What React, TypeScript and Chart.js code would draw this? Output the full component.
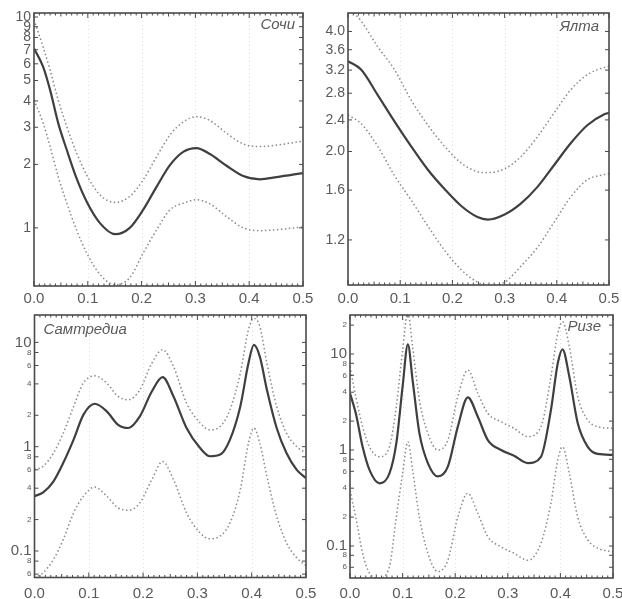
import React, { useEffect, useRef } from "react";
import { Chart, registerables } from "chart.js";

Chart.register(...registerables);

// ---------- data ----------
const xTickValues = [0, 0.1, 0.2, 0.3, 0.4, 0.5];

// Сочи
const sochiX = [0, 0.017, 0.03, 0.045, 0.061, 0.079, 0.098, 0.123, 0.151, 0.178, 0.203, 0.228, 0.253, 0.278, 0.302, 0.327, 0.358, 0.389, 0.42, 0.451, 0.5];
const sochiMid = [7.1, 5.8, 4.5, 3.14, 2.34, 1.72, 1.33, 1.05, 0.933, 1.0, 1.22, 1.57, 1.99, 2.3, 2.39, 2.24, 1.97, 1.76, 1.7, 1.74, 1.82];
const sochiUp = [9.7, 7.2, 5.6, 4.04, 3.02, 2.27, 1.78, 1.43, 1.32, 1.41, 1.69, 2.18, 2.76, 3.19, 3.37, 3.23, 2.81, 2.5, 2.43, 2.47, 2.58];
const sochiLow = [4.04, 3.14, 2.43, 1.75, 1.31, 0.98, 0.76, 0.6, 0.537, 0.58, 0.76, 0.98, 1.22, 1.31, 1.36, 1.3, 1.13, 1.0, 0.97, 0.98, 1.01];
const sochiTicks = [1, 2, 3, 4, 5, 6, 7, 8, 9, 10];

// Ялта
const yaltaX = [0, 0.025, 0.057, 0.089, 0.121, 0.153, 0.185, 0.217, 0.248, 0.268, 0.3, 0.331, 0.363, 0.395, 0.427, 0.459, 0.491, 0.5];
const yaltaMid = [3.37, 3.21, 2.77, 2.38, 2.06, 1.8, 1.61, 1.46, 1.37, 1.35, 1.39, 1.48, 1.63, 1.85, 2.1, 2.33, 2.48, 2.5];
const yaltaUp = [4.6, 4.25, 3.66, 3.21, 2.69, 2.33, 2.06, 1.87, 1.78, 1.77, 1.81, 1.94, 2.18, 2.5, 2.86, 3.12, 3.25, 3.27];
const yaltaLow = [2.47, 2.35, 2.06, 1.74, 1.51, 1.3, 1.13, 1.01, 0.94, 0.92, 0.94, 1.03, 1.15, 1.33, 1.54, 1.7, 1.75, 1.76];
const yaltaTicks = [1.2, 1.6, 2.0, 2.4, 2.8, 3.2, 3.6, 4.0];

// Самтредиа
const samX = [0, 0.016, 0.035, 0.053, 0.072, 0.09, 0.111, 0.133, 0.154, 0.173, 0.194, 0.216, 0.236, 0.256, 0.28, 0.305, 0.323, 0.342, 0.36, 0.379, 0.394, 0.404, 0.415, 0.428, 0.446, 0.464, 0.483, 0.5];
const samMid = [0.335, 0.365, 0.466, 0.7, 1.17, 2.02, 2.58, 2.18, 1.62, 1.51, 1.95, 3.38, 4.64, 3.03, 1.51, 0.97, 0.81, 0.84, 1.17, 2.43, 6.3, 9.46, 7.3, 3.51, 1.51, 0.87, 0.6, 0.5];
const samUp = [0.6, 0.65, 0.87, 1.35, 2.43, 4.07, 4.78, 4.07, 3.03, 2.82, 3.51, 6.3, 8.5, 5.87, 2.62, 1.69, 1.45, 1.56, 2.26, 5.07, 13.2, 17, 14.2, 6.3, 2.43, 1.35, 1.0, 0.87];
const samLow = [0.055, 0.062, 0.083, 0.129, 0.232, 0.335, 0.41, 0.335, 0.259, 0.246, 0.289, 0.483, 0.72, 0.483, 0.232, 0.149, 0.131, 0.139, 0.186, 0.388, 1.08, 1.51, 1.08, 0.52, 0.215, 0.12, 0.086, 0.072];
const samTicks = [0.06, 0.08, 0.1, 0.2, 0.4, 0.6, 0.8, 1, 2, 4, 6, 8, 10];

// Ризе
const rizeX = [0, 0.011, 0.024, 0.037, 0.056, 0.075, 0.088, 0.1, 0.11, 0.119, 0.132, 0.148, 0.167, 0.186, 0.205, 0.224, 0.243, 0.262, 0.287, 0.312, 0.338, 0.363, 0.382, 0.395, 0.404, 0.417, 0.433, 0.452, 0.471, 0.5];
const rizeMid = [3.9, 2.41, 1.08, 0.62, 0.45, 0.57, 1.17, 4.57, 12.6, 5.36, 1.49, 0.73, 0.53, 0.67, 1.75, 3.54, 2.22, 1.27, 1.0, 0.87, 0.73, 0.85, 2.61, 8.0, 11.2, 5.8, 1.9, 1.08, 0.91, 0.89];
const rizeUp = [7.4, 3.6, 1.75, 1.08, 0.85, 1.08, 2.82, 11.0, 27, 11.9, 3.32, 1.49, 1.0, 1.27, 3.6, 6.8, 3.9, 2.41, 1.97, 1.68, 1.38, 1.75, 5.8, 16.4, 21.7, 11.9, 3.6, 2.05, 1.75, 1.68];
const rizeLow = [0.38, 0.2, 0.084, 0.052, 0.046, 0.061, 0.2, 0.57, 1.22, 0.62, 0.2, 0.084, 0.054, 0.071, 0.2, 0.354, 0.219, 0.125, 0.098, 0.084, 0.071, 0.107, 0.279, 0.79, 1.08, 0.57, 0.2, 0.116, 0.095, 0.087];
const rizeTicks = [0.06, 0.08, 0.1, 0.2, 0.4, 0.6, 0.8, 1, 2, 4, 6, 8, 10, 20];

const decadeTicks = [0.1, 1, 10];

// ---------- styling / layout ----------
const FONT = "'Liberation Sans', Arial, sans-serif";
const TEXT = "#5a5a5a";
const SOLID = "#3f3f3f";
const DOTTED = "#8a8a8a";
const FRAME = "#4a4a4a";

type Box = { left: number; top: number; width: number; height: number };
type Plot = { left: number; right: number; top: number; bottom: number };
type PanelCfg = {
  title: string;
  xs: number[];
  mid: number[];
  up: number[];
  low: number[];
  yMin: number;
  yMax: number;
  yTicks: number[];
  major: number[] | null;
  fmt: (v: number) => string;
  yFont: number;
  canvas: Box;
  plot: Plot;
  xPad: number;
  titleAlign: "left" | "right";
  titleDx: number;
  titleDy: number;
};

const intFmt = (v: number) => String(Math.round(v));
const fixed1 = (v: number) => v.toFixed(1);
const minorFmt = (v: number) => {
  if (decadeTicks.some((d) => Math.abs(d - v) < 1e-9)) return v < 1 ? String(v) : String(Math.round(v));
  const e = Math.floor(Math.log10(v) + 1e-9);
  return String(Math.round(v / Math.pow(10, e)));
};

const PANELS: PanelCfg[] = [
  {
    title: "Сочи", xs: sochiX, mid: sochiMid, up: sochiUp, low: sochiLow,
    yMin: 0.53, yMax: 10.45, yTicks: sochiTicks, major: null, fmt: intFmt, yFont: 14,
    canvas: { left: 0, top: 0, width: 330, height: 312 },
    plot: { left: 34, right: 303, top: 13, bottom: 286 },
    xPad: 4, titleAlign: "right", titleDx: 8, titleDy: 4,
  },
  {
    title: "Ялта", xs: yaltaX, mid: yaltaMid, up: yaltaUp, low: yaltaLow,
    yMin: 0.925, yMax: 4.45, yTicks: yaltaTicks, major: null, fmt: fixed1, yFont: 14,
    canvas: { left: 300, top: 0, width: 322, height: 312 },
    plot: { left: 348, right: 609, top: 13, bottom: 285 },
    xPad: 5, titleAlign: "right", titleDx: 10, titleDy: 6,
  },
  {
    title: "Самтредиа", xs: samX, mid: samMid, up: samUp, low: samLow,
    yMin: 0.0557, yMax: 18.3, yTicks: samTicks, major: decadeTicks, fmt: minorFmt, yFont: 15,
    canvas: { left: 0, top: 300, width: 330, height: 299 },
    plot: { left: 34.5, right: 306, top: 315, bottom: 577.5 },
    xPad: 7, titleAlign: "left", titleDx: 9, titleDy: 7,
  },
  {
    title: "Ризе", xs: rizeX, mid: rizeMid, up: rizeUp, low: rizeLow,
    yMin: 0.0464, yMax: 25.5, yTicks: rizeTicks, major: decadeTicks, fmt: minorFmt, yFont: 15,
    canvas: { left: 300, top: 300, width: 322, height: 299 },
    plot: { left: 350, right: 613, top: 315, bottom: 578 },
    xPad: 7, titleAlign: "right", titleDx: 12, titleDy: 4,
  },
];

const framePlugin = {
  id: "frame",
  beforeDatasetsDraw(chart: any) {
    const { ctx, chartArea: a, scales } = chart;
    const x = scales.x;
    ctx.save();
    ctx.strokeStyle = "#dcdcdc";
    ctx.lineWidth = 1;
    ctx.setLineDash([1, 3]);
    [0.1, 0.2, 0.3, 0.4].forEach((v) => {
      const px = Math.round(x.getPixelForValue(v)) + 0.5;
      ctx.beginPath();
      ctx.moveTo(px, a.top);
      ctx.lineTo(px, a.bottom);
      ctx.stroke();
    });
    ctx.restore();
  },
  afterDatasetsDraw(chart: any, _args: any, opts: any) {
    const { ctx, chartArea: a, scales } = chart;
    const x = scales.x;
    const y = scales.y;
    ctx.save();
    ctx.strokeStyle = FRAME;
    ctx.lineWidth = 1.6;
    ctx.strokeRect(a.left, a.top, a.right - a.left, a.bottom - a.top);
    ctx.lineWidth = 1;
    for (let i = 0; i <= 50; i++) {
      const px = x.getPixelForValue(i / 100);
      const len = i % 10 === 0 ? 5 : i % 5 === 0 ? 3.5 : 2.5;
      ctx.beginPath();
      ctx.moveTo(px, a.bottom);
      ctx.lineTo(px, a.bottom - len);
      ctx.moveTo(px, a.top);
      ctx.lineTo(px, a.top + len);
      ctx.stroke();
    }
    y.ticks.forEach((t: any) => {
      const py = y.getPixelForValue(t.value);
      ctx.beginPath();
      ctx.moveTo(a.left, py);
      ctx.lineTo(a.left + 4, py);
      ctx.moveTo(a.right, py);
      ctx.lineTo(a.right - 4, py);
      ctx.stroke();
    });
    ctx.fillStyle = TEXT;
    ctx.font = `italic 15px ${FONT}`;
    ctx.textBaseline = "top";
    if (opts.align === "left") {
      ctx.textAlign = "left";
      ctx.fillText(opts.title, a.left + opts.dx, a.top + opts.dy);
    } else {
      ctx.textAlign = "right";
      ctx.fillText(opts.title, a.right - opts.dx, a.top + opts.dy);
    }
    ctx.restore();
  },
};

function Panel({ cfg }: { cfg: PanelCfg }) {
  const ref = useRef<HTMLCanvasElement | null>(null);
  useEffect(() => {
    if (!ref.current) return;
    const c = cfg.canvas;
    const p = cfg.plot;
    const mk = (ys: number[]) => cfg.xs.map((xv, i) => ({ x: xv, y: ys[i] }));
    const majorSet = cfg.major;
    const chart = new Chart(ref.current, {
      type: "line",
      data: {
        datasets: [
          { data: mk(cfg.up), borderColor: DOTTED, borderWidth: 1.5, borderDash: [1.5, 2.5], pointRadius: 0, cubicInterpolationMode: "monotone", fill: false },
          { data: mk(cfg.low), borderColor: DOTTED, borderWidth: 1.5, borderDash: [1.5, 2.5], pointRadius: 0, cubicInterpolationMode: "monotone", fill: false },
          { data: mk(cfg.mid), borderColor: SOLID, borderWidth: 2.2, pointRadius: 0, cubicInterpolationMode: "monotone", fill: false },
        ],
      },
      options: {
        responsive: false,
        maintainAspectRatio: false,
        animation: false,
        events: [],
        layout: {
          padding: { left: 0, top: p.top - c.top, right: c.left + c.width - p.right, bottom: 0 },
        },
        plugins: {
          legend: { display: false },
          tooltip: { enabled: false },
          frame: { title: cfg.title, align: cfg.titleAlign, dx: cfg.titleDx, dy: cfg.titleDy },
        } as any,
        scales: {
          x: {
            type: "linear",
            min: 0,
            max: 0.5,
            afterBuildTicks: (s: any) => {
              s.ticks = xTickValues.map((v) => ({ value: v }));
            },
            afterFit: (s: any) => {
              s.height = c.top + c.height - p.bottom;
              s.paddingLeft = 0;
              s.paddingRight = 0;
            },
            ticks: {
              autoSkip: false,
              maxRotation: 0,
              padding: cfg.xPad,
              color: TEXT,
              font: { family: FONT, size: 15 },
              callback: (v: any) => Number(v).toFixed(1),
            },
            grid: { display: false, drawTicks: false },
            border: { display: false },
          },
          y: {
            type: "logarithmic",
            min: cfg.yMin,
            max: cfg.yMax,
            afterBuildTicks: (s: any) => {
              s.ticks = cfg.yTicks.map((v) => ({ value: v }));
            },
            afterFit: (s: any) => {
              s.width = p.left - c.left;
              s.paddingTop = 0;
              s.paddingBottom = 0;
            },
            ticks: {
              autoSkip: false,
              padding: 3,
              color: TEXT,
              font: (ctx: any) => {
                const v = ctx.tick ? ctx.tick.value : 1;
                const isMajor = !majorSet || majorSet.some((d) => Math.abs(d - v) < 1e-9);
                return { family: FONT, size: isMajor ? cfg.yFont : 8 };
              },
              callback: (v: any) => cfg.fmt(Number(v)),
            },
            grid: { display: false, drawTicks: false },
            border: { display: false },
          },
        },
      },
      plugins: [framePlugin],
    } as any);
    return () => chart.destroy();
  }, [cfg]);
  const c = cfg.canvas;
  return (
    <canvas
      ref={ref}
      width={c.width}
      height={c.height}
      style={{ position: "absolute", left: c.left, top: c.top, width: c.width, height: c.height }}
    />
  );
}

export default function App() {
  return (
    <div style={{ position: "fixed", left: 0, top: 0, width: 622, height: 599, background: "#ffffff", overflow: "hidden" }}>
      {PANELS.map((p) => (
        <Panel key={p.title} cfg={p} />
      ))}
    </div>
  );
}
